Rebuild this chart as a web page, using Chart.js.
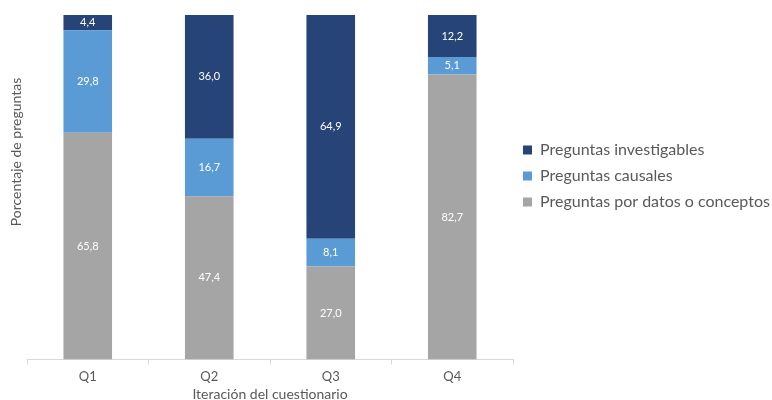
<!DOCTYPE html>
<html>
<head>
<meta charset="utf-8">
<script src="https://cdn.jsdelivr.net/npm/chart.js@4"></script>
<style>
  html, body { margin: 0; padding: 0; background: #fff; }
  #wrap { width: 772px; height: 400px; position: relative; }
</style>
</head>
<body>
<div id="wrap"><canvas id="chart"></canvas></div>
<script>
// Chart data
const categories = ['Q1', 'Q2', 'Q3', 'Q4'];
const investigables = [4.4, 36.0, 64.9, 12.2];
const causales = [29.8, 16.7, 8.1, 5.1];
const datosConceptos = [65.8, 47.4, 27.0, 82.7];

const FONT = "Lato, 'Open Sans', sans-serif";
const TEXT = '#595959';

// Draw the value inside each bar segment
const valueLabels = {
    id: 'valueLabels',
    afterDatasetsDraw(chart) {
        const ctx = chart.ctx;
        ctx.save();
        ctx.font = '11px ' + FONT;
        ctx.fillStyle = '#ffffff';
        ctx.textAlign = 'center';
        ctx.textBaseline = 'middle';
        chart.data.datasets.forEach((ds, i) => {
            chart.getDatasetMeta(i).data.forEach((bar, j) => {
                const mid = (bar.y + bar.base) / 2;
                ctx.fillText(ds.data[j].toFixed(1).replace('.', ','), bar.x, mid);
            });
        });
        ctx.restore();
    }
};

// Vertical axis title, placed where the original puts it (above centre)
const yTitle = {
    id: 'yTitle',
    afterDraw(chart) {
        const ctx = chart.ctx;
        ctx.save();
        ctx.translate(16, 152);
        ctx.rotate(-Math.PI / 2);
        ctx.font = '14px ' + FONT;
        ctx.fillStyle = TEXT;
        ctx.textAlign = 'center';
        ctx.textBaseline = 'middle';
        ctx.fillText('Porcentaje de preguntas', 0, 0);
        ctx.restore();
    }
};

new Chart(document.getElementById('chart'), {
    type: 'bar',
    data: {
        labels: categories,
        datasets: [
            { label: 'Preguntas por datos o conceptos', data: datosConceptos, backgroundColor: '#A5A5A5' },
            { label: 'Preguntas causales', data: causales, backgroundColor: '#5B9BD5' },
            { label: 'Preguntas investigables', data: investigables, backgroundColor: '#264478' }
        ]
    },
    options: {
        responsive: true,
        maintainAspectRatio: false,
        animation: false,
        layout: { padding: { top: 15, left: 27, right: 0, bottom: 0 } },
        datasets: { bar: { categoryPercentage: 1, barPercentage: 0.4 } },
        scales: {
            x: {
                stacked: true,
                grid: { display: true, drawOnChartArea: false, offset: true, color: '#D9D9D9', tickLength: 5 },
                border: { color: '#D9D9D9' },
                ticks: { color: TEXT, font: { family: FONT, size: 13 }, padding: 4 },
                title: { display: true, text: 'Iteración del cuestionario', color: TEXT, font: { family: FONT, size: 14 }, padding: { top: -2, bottom: -3 } }
            },
            y: {
                stacked: true,
                display: false,
                min: 0,
                max: 100
            }
        },
        plugins: {
            legend: {
                position: 'right',
                align: 'start',
                reverse: true,
                maxWidth: 259,
                title: { display: true, text: '', font: { size: 10 }, padding: { top: 0, bottom: 105 } },
                labels: { boxWidth: 9, boxHeight: 9, padding: 10, color: TEXT, font: { family: FONT, size: 16 } }
            },
            tooltip: { enabled: false }
        }
    },
    plugins: [valueLabels, yTitle]
});
</script>
</body>
</html>
